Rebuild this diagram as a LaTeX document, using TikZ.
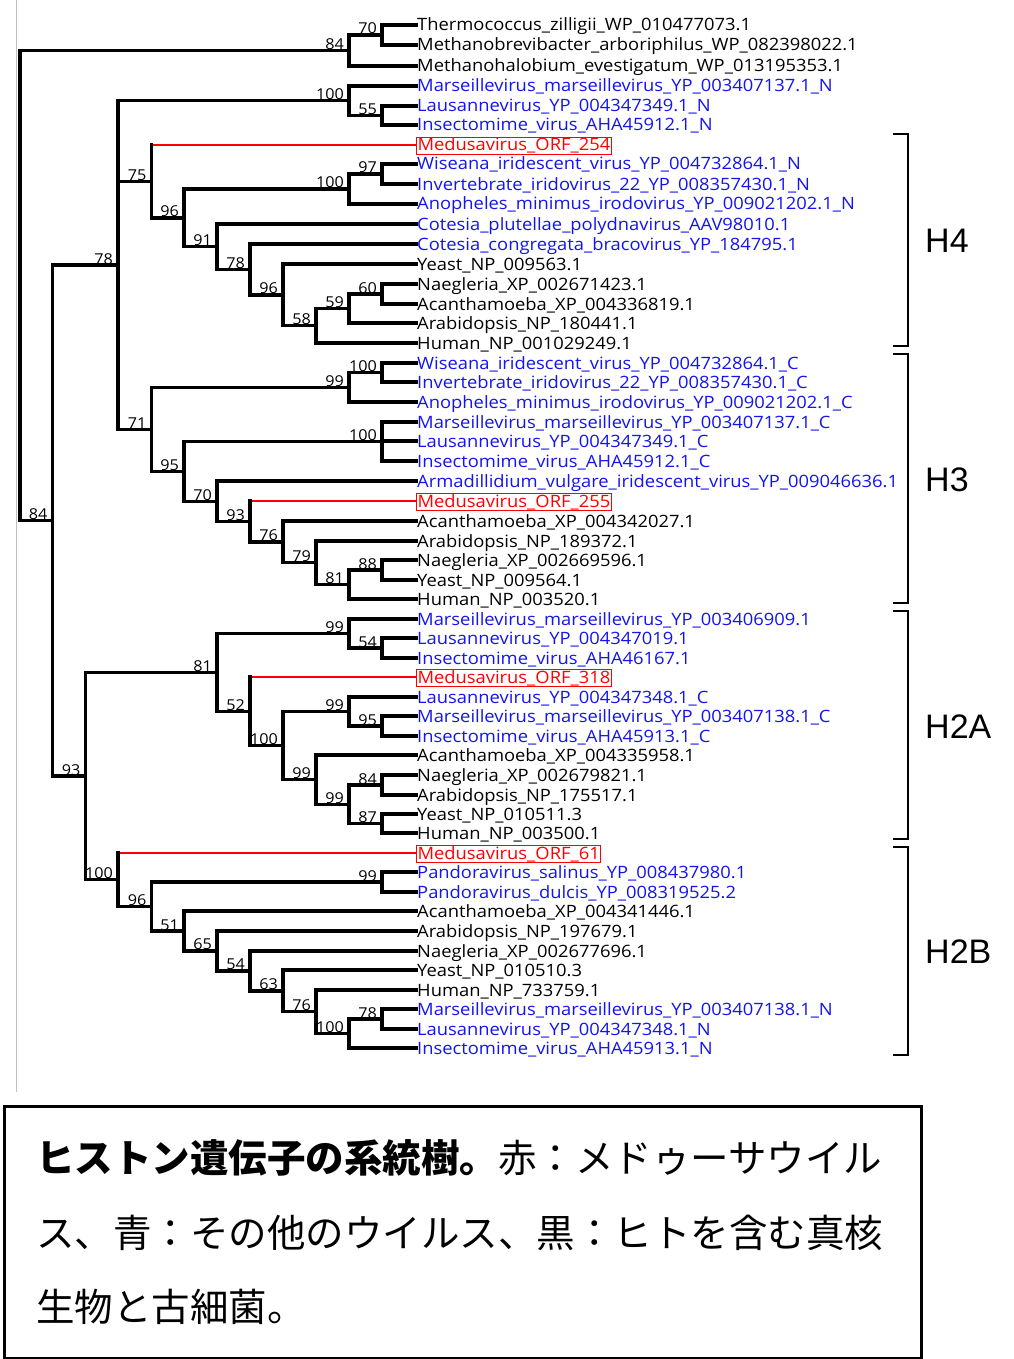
\documentclass[tikz,border=0pt]{standalone}
\usepackage{fontspec}
\setmainfont{Open Sans}
\newfontfamily\leaffont[FakeStretch=1.08]{Open Sans}
\newfontfamily\cjk{Noto Sans CJK JP}
\newfontfamily\arialf{Liberation Sans}
\definecolor{vblue}{RGB}{20,20,240}
\definecolor{mred}{RGB}{255,0,0}
\begin{document}
\begin{tikzpicture}[x=1pt,y=-1pt,
  br/.style={line width=3.2pt, line cap=rect, line join=miter},
  rbr/.style={line width=2.3pt, mred},
  leaf/.style={anchor=base west, inner sep=1pt, font=\leaffont\fontsize{17}{17}\selectfont},
  lk/.style={text=black},
  lb/.style={text=vblue},
  lr/.style={text=mred, draw=mred, line width=1pt},
  bsl/.style={anchor=base east, inner sep=0pt, xshift=-5pt, yshift=1pt, font=\leaffont\fontsize{15}{15}\selectfont},
  brk/.style={line width=2.8pt, line join=miter},
  hl/.style={anchor=west, inner sep=0pt, font=\arialf\fontsize{34}{34}\selectfont},
  capt/.style={anchor=base west, inner sep=0pt, font=\cjk\fontsize{38.5}{38.5}\selectfont}]
\useasboundingbox (0,0) rectangle (1013,1359);
\fill[white] (0,0) rectangle (1013,1359);
\draw[black!25, line width=1.2pt] (16.5,0) -- (16.5,1092);

% leaves
\foreach \i/\y/\s/\t in {
1/25/lk/Thermococcus\_zilligii\_WP\_010477073.1,
2/45/lk/Methanobrevibacter\_arboriphilus\_WP\_082398022.1,
3/66/lk/Methanohalobium\_evestigatum\_WP\_013195353.1,
4/86/lb/Marseillevirus\_marseillevirus\_YP\_003407137.1\_N,
5/106/lb/Lausannevirus\_YP\_004347349.1\_N,
6/125/lb/Insectomime\_virus\_AHA45912.1\_N,
7/145/lr/Medusavirus\_ORF\_254,
8/164/lb/Wiseana\_iridescent\_virus\_YP\_004732864.1\_N,
9/184/lb/Invertebrate\_iridovirus\_22\_YP\_008357430.1\_N,
10/204/lb/Anopheles\_minimus\_irodovirus\_YP\_009021202.1\_N,
11/224/lb/Cotesia\_plutellae\_polydnavirus\_AAV98010.1,
12/244/lb/Cotesia\_congregata\_bracovirus\_YP\_184795.1,
13/264/lk/Yeast\_NP\_009563.1,
14/284/lk/Naegleria\_XP\_002671423.1,
15/304/lk/Acanthamoeba\_XP\_004336819.1,
16/323/lk/Arabidopsis\_NP\_180441.1,
17/343/lk/Human\_NP\_001029249.1,
18/363/lb/Wiseana\_iridescent\_virus\_YP\_004732864.1\_C,
19/382/lb/Invertebrate\_iridovirus\_22\_YP\_008357430.1\_C,
20/402/lb/Anopheles\_minimus\_irodovirus\_YP\_009021202.1\_C,
21/422/lb/Marseillevirus\_marseillevirus\_YP\_003407137.1\_C,
22/441/lb/Lausannevirus\_YP\_004347349.1\_C,
23/461/lb/Insectomime\_virus\_AHA45912.1\_C,
24/481/lb/Armadillidium\_vulgare\_iridescent\_virus\_YP\_009046636.1,
25/501/lr/Medusavirus\_ORF\_255,
26/521/lk/Acanthamoeba\_XP\_004342027.1,
27/541/lk/Arabidopsis\_NP\_189372.1,
28/560/lk/Naegleria\_XP\_002669596.1,
29/580/lk/Yeast\_NP\_009564.1,
30/599/lk/Human\_NP\_003520.1,
31/619/lb/Marseillevirus\_marseillevirus\_YP\_003406909.1,
32/638/lb/Lausannevirus\_YP\_004347019.1,
33/658/lb/Insectomime\_virus\_AHA46167.1,
34/677/lr/Medusavirus\_ORF\_318,
35/697/lb/Lausannevirus\_YP\_004347348.1\_C,
36/716/lb/Marseillevirus\_marseillevirus\_YP\_003407138.1\_C,
37/736/lb/Insectomime\_virus\_AHA45913.1\_C,
38/755/lk/Acanthamoeba\_XP\_004335958.1,
39/775/lk/Naegleria\_XP\_002679821.1,
40/795/lk/Arabidopsis\_NP\_175517.1,
41/814/lk/Yeast\_NP\_010511.3,
42/833/lk/Human\_NP\_003500.1,
43/853/lr/Medusavirus\_ORF\_61,
44/872/lb/Pandoravirus\_salinus\_YP\_008437980.1,
45/892/lb/Pandoravirus\_dulcis\_YP\_008319525.2,
46/911/lk/Acanthamoeba\_XP\_004341446.1,
47/931/lk/Arabidopsis\_NP\_197679.1,
48/951/lk/Naegleria\_XP\_002677696.1,
49/970/lk/Yeast\_NP\_010510.3,
50/990/lk/Human\_NP\_733759.1,
51/1009/lb/Marseillevirus\_marseillevirus\_YP\_003407138.1\_N,
52/1029/lb/Lausannevirus\_YP\_004347348.1\_N,
53/1048/lb/Insectomime\_virus\_AHA45913.1\_N}
{
  \coordinate (t\i) at (416,\y);
  \node[leaf,\s] (l\i) at (416,\y+6) {\t};
}

% internal nodes
\coordinate (root) at (20,285.5);
\coordinate (nA) at (349,50.5);
\coordinate (n70) at (382,35);
\coordinate (nB) at (52.5,520.5);
\coordinate (nC) at (118,265);
\coordinate (nD) at (85.5,776);
\coordinate (nE) at (349,100.75);
\coordinate (n55) at (382,115.5);
\coordinate (n75) at (151.5,181.4);
\coordinate (n96a) at (184,217.9);
\coordinate (n100b) at (349,189);
\coordinate (n97) at (382,174);
\coordinate (n91) at (217,246.7);
\coordinate (n78b) at (250,269.4);
\coordinate (n96b) at (283,294.9);
\coordinate (n58) at (316,325.75);
\coordinate (n59) at (349,308.5);
\coordinate (n60) at (382,294);
\coordinate (n71) at (151.5,429.3);
\coordinate (n99) at (349,387.25);
\coordinate (n100c) at (382,372.5);
\coordinate (n95) at (184,471.4);
\coordinate (n100d) at (382,441.5);
\coordinate (n70b) at (217,501.2);
\coordinate (n93) at (250,521.4);
\coordinate (n76) at (283,541.9);
\coordinate (n79) at (316,562.75);
\coordinate (n81) at (349,584.5);
\coordinate (n88) at (382,570);
\coordinate (n81b) at (217,672.4);
\coordinate (n99b) at (349,633.5);
\coordinate (n54) at (382,648);
\coordinate (n52) at (250,711.3);
\coordinate (n100f) at (283,745.6);
\coordinate (n99c) at (349,711.5);
\coordinate (n95b) at (382,726);
\coordinate (n99d) at (316,779.6);
\coordinate (n99e) at (349,804.25);
\coordinate (n84) at (382,785);
\coordinate (n87) at (382,823.5);
\coordinate (n100e) at (118,879.75);
\coordinate (n96c) at (151.5,906.5);
\coordinate (n99f) at (382,882);
\coordinate (n51) at (184,931);
\coordinate (n65) at (217,950.9);
\coordinate (n54b) at (250,970.9);
\coordinate (n63) at (283,990.9);
\coordinate (n76b) at (316,1011.75);
\coordinate (n100g) at (349,1033.5);
\coordinate (n78c) at (382,1019);

% red (Medusavirus) branches
\foreach \p/\c in {n75/t7, n93/t25, n52/t34, n100e/t43}
{
  \draw[rbr] (\p |- \c) -- (\c);
  \draw[br] (\p) -- (\p |- \c);
}

% black branches
\foreach \p/\c in {root/nA, root/nB, nA/n70, nA/t3, n70/t1, n70/t2,
  nB/nC, nB/nD, nC/nE, nC/n75, nC/n71, nE/t4, nE/n55, n55/t5, n55/t6,
  n75/n96a, n96a/n100b, n96a/n91, n100b/n97, n100b/t10, n97/t8, n97/t9,
  n91/t11, n91/n78b, n78b/t12, n78b/n96b, n96b/t13, n96b/n58,
  n58/n59, n58/t17, n59/n60, n59/t16, n60/t14, n60/t15,
  n71/n99, n71/n95, n99/n100c, n99/t20, n100c/t18, n100c/t19,
  n95/n100d, n95/n70b, n100d/t21, n100d/t22, n100d/t23,
  n70b/t24, n70b/n93, n93/n76, n76/t26, n76/n79, n79/t27, n79/n81,
  n81/n88, n81/t30, n88/t28, n88/t29,
  nD/n81b, nD/n100e, n81b/n99b, n81b/n52, n99b/t31, n99b/n54, n54/t32, n54/t33,
  n52/n100f, n100f/n99c, n100f/n99d, n99c/t35, n99c/n95b, n95b/t36, n95b/t37,
  n99d/t38, n99d/n99e, n99e/n84, n99e/n87, n84/t39, n84/t40, n87/t41, n87/t42,
  n100e/n96c, n96c/n99f, n96c/n51, n99f/t44, n99f/t45,
  n51/t46, n51/n65, n65/t47, n65/n54b, n54b/t48, n54b/n63,
  n63/t49, n63/n76b, n76b/t50, n76b/n100g, n100g/n78c, n100g/t53, n78c/t51, n78c/t52}
{
  \draw[br] (\p) |- (\c);
}

% bootstrap values
\foreach \n/\v in {nA/84, n70/70, nE/100, n55/55, n75/75, n96a/96, n100b/100, n97/97,
  n91/91, n78b/78, n96b/96, n58/58, n59/59, n60/60, nC/78, nB/84, n71/71, n99/99,
  n100c/100, n95/95, n100d/100, n70b/70, n93/93, n76/76, n79/79, n81/81, n88/88,
  nD/93, n81b/81, n99b/99, n54/54, n52/52, n100f/100, n99c/99, n95b/95, n99d/99,
  n99e/99, n84/84, n87/87, n100e/100, n96c/96, n99f/99, n51/51, n65/65, n54b/54,
  n63/63, n76b/76, n100g/100, n78c/78}
{
  \node[bsl] (bs-\n) at (\n) {\v};
}

% brackets
\draw[brk] (893,134) -- (908,134) -- (908,346) -- (893,346);
\draw[brk] (893,354) -- (908,354) -- (908,603) -- (893,603);
\draw[brk] (893,611) -- (908,611) -- (908,839) -- (893,839);
\draw[brk] (893,847) -- (908,847) -- (908,1055) -- (893,1055);
\node[hl] (h4) at (925,241) {H4};
\node[hl] (h3) at (925,480) {H3};
\node[hl] (h2a) at (925,727) {H2A};
\node[hl] (h2b) at (925,952) {H2B};

% caption
\node[draw, line width=2.5pt, anchor=north west, minimum width=917pt, minimum height=252pt, inner sep=0pt] (capbox) at (3,1105) {};
\node[capt] (c1) at (36,1172) {\textbf{ヒストン遺伝子の系統樹。}赤：メドゥーサウイル};
\node[capt] (c2) at (36,1247) {ス、青：その他のウイルス、黒：ヒトを含む真核};
\node[capt] (c3) at (36,1321) {生物と古細菌。};
\end{tikzpicture}
\end{document}
